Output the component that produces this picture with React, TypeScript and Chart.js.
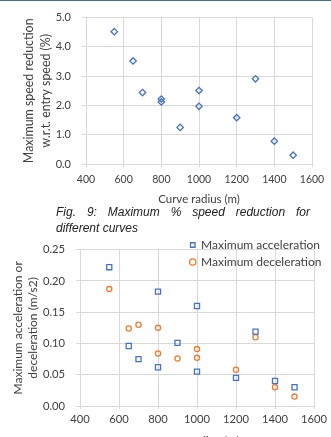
import React, { useEffect, useRef } from "react";
import { Chart, registerables } from "chart.js";

Chart.register(...registerables);

// ---- Data ----
const radiusFig9 = [550, 650, 700, 800, 800, 900, 1000, 1000, 1200, 1300, 1400, 1500];
const speedReduction = [4.52, 3.52, 2.44, 2.22, 2.12, 1.25, 2.51, 1.97, 1.58, 2.91, 0.78, 0.3];

const radiusFig10 = [550, 650, 700, 800, 800, 900, 1000, 1000, 1200, 1300, 1400, 1500];
const maxAcceleration = [0.222, 0.096, 0.075, 0.183, 0.062, 0.101, 0.16, 0.055, 0.045, 0.119, 0.04, 0.03];
const maxDeceleration = [0.187, 0.124, 0.13, 0.125, 0.084, 0.076, 0.091, 0.077, 0.058, 0.11, 0.03, 0.015];

const xTickValues = [400, 600, 800, 1000, 1200, 1400, 1600];
const yTickValues1 = [0, 1, 2, 3, 4, 5];
const yTickValues2 = [0, 0.05, 0.1, 0.15, 0.2, 0.25];

const xTitle = "Curve radius (m)";
const yTitle1 = ["Maximum speed reduction", "w.r.t. entry speed (%)"];
const yTitle2 = ["Maximum acceleration or", "deceleration (m/s2)"];
const accelLabel = "Maximum acceleration";
const decelLabel = "Maximum deceleration";
const captionLine1 = "Fig. 9: Maximum % speed reduction for";
const captionLine2 = "different curves";

const BLUE = "#4472C4";
const ORANGE = "#ED7D31";
const GRID = "#d9d9d9";
const TEXT = "#404040";
const FONT = "Lato";

const toPts = (xs: number[], ys: number[]) => xs.map((x, i) => ({ x, y: ys[i] }));

function makeScales(opts: {
  yTicks: number[];
  yMax: number;
  yDigits: number;
  yWidth: number;
  xHeight: number;
  xTickSize: number;
  yTickSize: number;
  xTitleSize: number;
  yTitleSize: number;
  yTitle: string[];
  yTitleLH: number;
  yTitlePad: number;
  xTickPad: number;
}) {
  return {
    x: {
      type: "linear" as const,
      min: 400,
      max: 1600,
      afterBuildTicks: (s: any) => {
        s.ticks = xTickValues.map((v) => ({ value: v }));
      },
      afterFit: (s: any) => {
        s.height = opts.xHeight;
      },
      grid: { color: GRID, lineWidth: 1, tickLength: 3, drawTicks: true },
      border: { color: GRID },
      ticks: {
        color: TEXT,
        padding: opts.xTickPad,
        font: { family: FONT, size: opts.xTickSize },
        maxRotation: 0,
        autoSkip: false,
        callback: (v: any) => String(v),
      },
      title: {
        display: true,
        text: xTitle,
        color: TEXT,
        padding: 0,
        font: { family: FONT, size: opts.xTitleSize, lineHeight: 1.2 },
      },
    },
    y: {
      type: "linear" as const,
      min: 0,
      max: opts.yMax,
      afterBuildTicks: (s: any) => {
        s.ticks = opts.yTicks.map((v) => ({ value: v }));
      },
      afterFit: (s: any) => {
        s.width = opts.yWidth;
      },
      grid: { color: GRID, lineWidth: 1, tickLength: 4, drawTicks: true },
      border: { color: GRID },
      ticks: {
        color: TEXT,
        padding: 11,
        font: { family: FONT, size: opts.yTickSize },
        callback: (v: any) => Number(v).toFixed(opts.yDigits),
      },
      title: {
        display: true,
        text: opts.yTitle,
        color: TEXT,
        padding: { top: opts.yTitlePad, bottom: 0 },
        font: { family: FONT, size: opts.yTitleSize, lineHeight: opts.yTitleLH },
      },
    },
  };
}

const legendPlacer = {
  id: "legendPlacer",
  afterLayout(chart: any) {
    const l = chart.legend;
    if (!l) return;
    const w = l.width;
    l.left = 185.5;
    l.right = 185.5 + w;
    l.top = 2;
    l.bottom = 200;
  },
};

function Fig9() {
  const ref = useRef<HTMLCanvasElement>(null);
  useEffect(() => {
    if (!ref.current) return;
    const chart = new Chart(ref.current, {
      type: "scatter",
      data: {
        datasets: [
          {
            label: "Speed reduction",
            data: toPts(radiusFig9, speedReduction),
            pointStyle: "rectRot",
            pointRadius: 3.2,
            pointBorderWidth: 1.3,
            borderColor: BLUE,
            backgroundColor: "rgba(255,255,255,0)",
          },
        ],
      },
      options: {
        animation: false,
        responsive: false,
        layout: { padding: { left: 0, right: 19, top: 16, bottom: 0 } },
        plugins: { legend: { display: false }, tooltip: { enabled: false } },
        scales: makeScales({
          yTicks: yTickValues1,
          yMax: 5,
          yDigits: 1,
          yWidth: 86,
          xHeight: 42,
          xTickSize: 10.5,
          yTickSize: 11,
          xTitleSize: 11.5,
          yTitleSize: 12.4,
          yTitle: yTitle1,
          yTitleLH: 1.37,
          yTitlePad: 21,
          xTickPad: 6,
        }) as any,
      },
    });
    return () => chart.destroy();
  }, []);
  return (
    <canvas
      ref={ref}
      width={331}
      height={206}
      style={{ position: "absolute", left: 0, top: 0, width: 331, height: 206 }}
    />
  );
}

function Fig10() {
  const ref = useRef<HTMLCanvasElement>(null);
  useEffect(() => {
    if (!ref.current) return;
    const chart = new Chart(ref.current, {
      type: "scatter",
      data: {
        datasets: [
          {
            label: accelLabel,
            data: toPts(radiusFig10, maxAcceleration),
            pointStyle: "rect",
            pointRadius: 3.6,
            pointBorderWidth: 1.3,
            borderColor: BLUE,
            backgroundColor: "rgba(255,255,255,0)",
          },
          {
            label: decelLabel,
            data: toPts(radiusFig10, maxDeceleration),
            pointStyle: "circle",
            pointRadius: 2.6,
            pointBorderWidth: 1.3,
            borderColor: ORANGE,
            backgroundColor: "rgba(255,255,255,0)",
          },
        ],
      },
      options: {
        animation: false,
        responsive: false,
        layout: { padding: { left: 0, right: 16, top: 14, bottom: 0 } },
        plugins: {
          tooltip: { enabled: false },
          legend: {
            display: true,
            position: "chartArea",
            align: "start",
            labels: {
              usePointStyle: true,
              boxWidth: 4.5,
              boxHeight: 4.5,
              padding: 5,
              color: TEXT,
              font: { family: FONT, size: 12 },
            },
          },
        },
        scales: makeScales({
          yTicks: yTickValues2,
          yMax: 0.25,
          yDigits: 2,
          yWidth: 80,
          xHeight: 42,
          xTickSize: 11.2,
          yTickSize: 11.2,
          xTitleSize: 12,
          yTitleSize: 12,
          yTitle: yTitle2,
          yTitleLH: 1.25,
          yTitlePad: 10.8,
          xTickPad: 4,
        }) as any,
      },
      plugins: [legendPlacer],
    });
    return () => chart.destroy();
  }, []);
  return (
    <canvas
      ref={ref}
      width={331}
      height={216}
      style={{ position: "absolute", left: 0, top: 232, width: 331, height: 216 }}
    />
  );
}

export default function App() {
  return (
    <div
      style={{
        position: "absolute",
        left: 0,
        top: 0,
        width: 331,
        height: 437,
        overflow: "hidden",
        background: "#ffffff",
      }}
    >
      <div style={{ position: "absolute", left: 0, top: 0, width: 331, height: 1, background: "#4d6a9a" }} />
      <Fig9 />
      <div
        style={{
          position: "absolute",
          left: 56,
          top: 204,
          width: 254,
          fontFamily: "'Liberation Sans', Arial, sans-serif",
          fontStyle: "italic",
          fontSize: 12,
          lineHeight: "16px",
          color: "#222222",
        }}
      >
        <div style={{ textAlign: "justify", textAlignLast: "justify" as any, whiteSpace: "nowrap" as any }}>
          {captionLine1}
        </div>
        <div>{captionLine2}</div>
      </div>
      <Fig10 />
    </div>
  );
}
